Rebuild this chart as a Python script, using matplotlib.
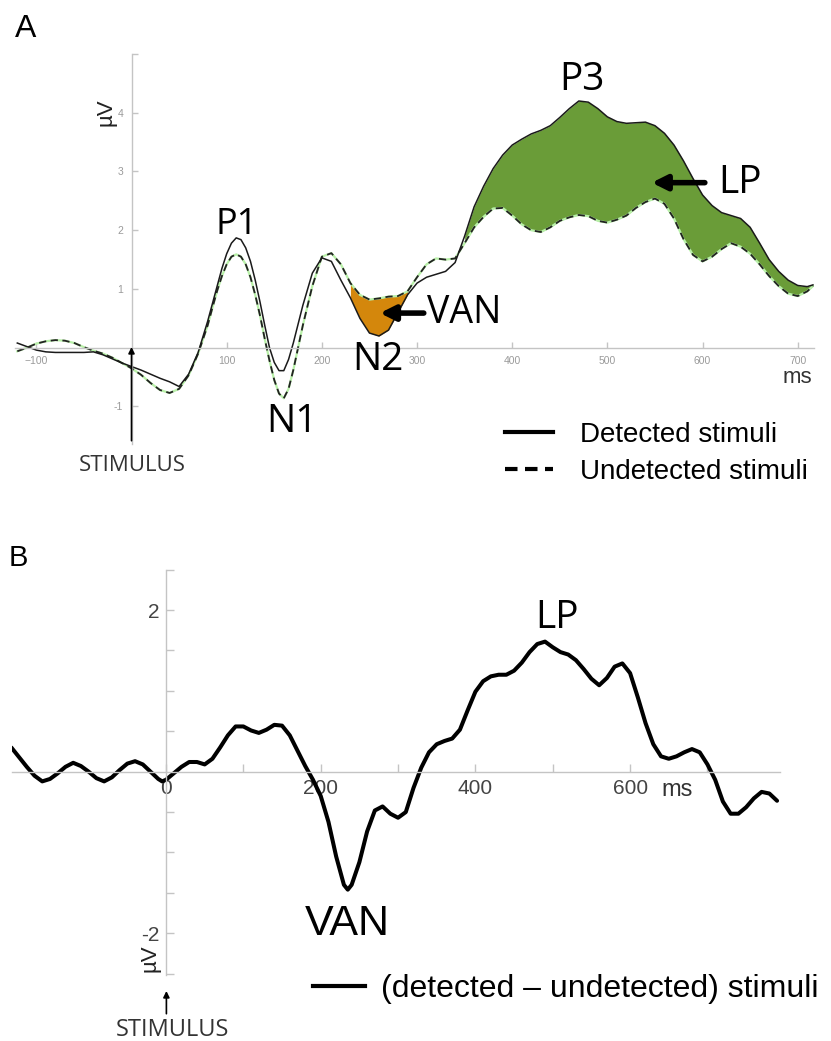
import matplotlib
matplotlib.use("Agg")
import matplotlib.pyplot as plt
from matplotlib.lines import Line2D

plt.rcParams['font.family'] = ['Liberation Sans', 'DejaVu Sans']

# ---- Panel A: ERPs, detected vs undetected (ms, µV) ----
t_a = [-120, -110, -100, -90, -80, -70, -60, -50, -40, -30, -20, -10, 0, 10, 20, 30, 40,
       50, 60, 70, 80, 85, 90, 95, 100, 105, 110, 115, 120, 125, 130, 135, 140, 145, 150,
       155, 160, 165, 170, 175, 180, 190, 200, 210, 220, 230, 240, 250, 260, 270, 280,
       290, 300, 310, 320, 330, 340, 350, 360, 370, 380, 390, 400, 410, 420, 430, 440,
       450, 460, 470, 480, 490, 500, 510, 520, 530, 540, 550, 560, 570, 580, 590, 600,
       610, 620, 630, 640, 650, 660, 670, 680, 690, 700, 710, 716]
detected = [0.08, 0.02, -0.04, -0.07, -0.08, -0.08, -0.08, -0.08, -0.07, -0.12, -0.19, -0.26,
            -0.32, -0.38, -0.45, -0.52, -0.58, -0.66, -0.45, -0.08, 0.45, 0.75, 1.05, 1.35,
            1.6, 1.78, 1.87, 1.84, 1.7, 1.47, 1.15, 0.78, 0.38, 0.0, -0.25, -0.39, -0.39,
            -0.2, 0.08, 0.4, 0.72, 1.27, 1.53, 1.47, 1.15, 0.85, 0.5, 0.25, 0.2, 0.3, 0.6,
            0.9, 1.1, 1.2, 1.25, 1.3, 1.45, 1.9, 2.4, 2.75, 3.05, 3.28, 3.45, 3.55, 3.64,
            3.7, 3.78, 3.92, 4.07, 4.2, 4.18, 4.07, 3.93, 3.85, 3.82, 3.83, 3.84, 3.78,
            3.65, 3.45, 3.18, 2.88, 2.6, 2.42, 2.3, 2.25, 2.2, 2.05, 1.78, 1.5, 1.3, 1.15,
            1.06, 1.04, 1.07]
undetected = [-0.06, 0.0, 0.07, 0.11, 0.13, 0.12, 0.08, 0.01, -0.05, -0.1, -0.17, -0.26,
              -0.35, -0.46, -0.6, -0.72, -0.77, -0.7, -0.47, -0.1, 0.38, 0.68, 0.97, 1.22,
              1.42, 1.55, 1.59, 1.55, 1.42, 1.2, 0.9, 0.55, 0.15, -0.22, -0.55, -0.78, -0.86,
              -0.7, -0.38, 0.0, 0.38, 1.05, 1.55, 1.61, 1.42, 1.1, 0.9, 0.82, 0.84, 0.87,
              0.88, 0.96, 1.2, 1.42, 1.52, 1.5, 1.52, 1.78, 2.05, 2.23, 2.37, 2.38, 2.25,
              2.1, 2.0, 1.97, 2.05, 2.16, 2.22, 2.26, 2.24, 2.16, 2.13, 2.18, 2.25, 2.38,
              2.48, 2.54, 2.45, 2.2, 1.85, 1.58, 1.47, 1.55, 1.68, 1.78, 1.72, 1.6, 1.42,
              1.22, 1.05, 0.92, 0.88, 0.96, 1.05]

# ---- Panel B: difference wave ----
t_b = [-200, -190, -180, -170, -160, -150, -140, -130, -120, -110, -100, -90, -80, -70, -60,
       -50, -40, -30, -20, -10, -5, 0, 10, 20, 30, 40, 50, 60, 70, 80, 90, 100, 110, 120,
       130, 140, 150, 160, 170, 180, 190, 200, 210, 220, 230, 235, 240, 250, 260, 270, 280,
       290, 300, 310, 320, 330, 340, 350, 360, 370, 380, 390, 400, 410, 420, 430, 440, 450,
       460, 470, 480, 490, 500, 510, 520, 530, 540, 550, 560, 570, 580, 590, 600, 610, 620,
       630, 640, 650, 660, 670, 680, 690, 700, 710, 720, 730, 740, 750, 760, 770, 780, 790]
difference = [0.30, 0.18, 0.06, -0.05, -0.12, -0.09, -0.02, 0.06, 0.11, 0.07, 0.0, -0.08,
              -0.12, -0.07, 0.02, 0.10, 0.13, 0.09, 0.0, -0.09, -0.12, -0.1, -0.02, 0.06,
              0.12, 0.12, 0.09, 0.16, 0.3, 0.45, 0.56, 0.56, 0.51, 0.48, 0.52, 0.58, 0.57,
              0.45, 0.26, 0.07, -0.1, -0.3, -0.62, -1.05, -1.4, -1.46, -1.4, -1.12, -0.74,
              -0.48, -0.43, -0.52, -0.57, -0.5, -0.2, 0.05, 0.24, 0.34, 0.38, 0.41, 0.52,
              0.76, 0.99, 1.12, 1.18, 1.2, 1.2, 1.25, 1.35, 1.48, 1.58, 1.61, 1.54, 1.48,
              1.45, 1.38, 1.27, 1.15, 1.07, 1.16, 1.3, 1.34, 1.22, 0.92, 0.6, 0.34, 0.19,
              0.16, 0.19, 0.24, 0.28, 0.24, 0.09, -0.1, -0.37, -0.52, -0.52, -0.44, -0.33,
              -0.25, -0.27, -0.36]

W, H = 831, 1041
fig = plt.figure(figsize=(W / 100, H / 100), dpi=100)


def px_axes(x0, y0, x1, y1):
    return fig.add_axes([x0 / W, 1 - y1 / H, (x1 - x0) / W, (y1 - y0) / H])


def style_axes(ax, grey):
    for s in ['top', 'right']:
        ax.spines[s].set_visible(False)
    ax.spines['left'].set_position(('data', 0))
    ax.spines['bottom'].set_position(('data', 0))
    for s in ['left', 'bottom']:
        ax.spines[s].set_color(grey)
        ax.spines[s].set_linewidth(1.0)
    ax.patch.set_visible(False)


OPEN = 'Open Sans'

# ================= Panel A =================
axA = px_axes(15.4, 54.0, 813.9, 443.5)
axA.set_xlim(-122, 717)
axA.set_ylim(-1.63, 5.0)
style_axes(axA, '#c4c4c4')

axA.set_xticks([-100, 100, 200, 300, 400, 500, 600, 700])
axA.set_yticks([-1, 1, 2, 3, 4, 5])
axA.set_yticklabels(['-1', '1', '2', '3', '4', ''])
axA.tick_params(direction='in', length=4, width=1, color='#c4c4c4',
                labelsize=7.5, labelcolor='#9a9a9a', pad=6)

# fills
in_van = [(s < u) and 230 <= t <= 295 for t, s, u in zip(t_a, detected, undetected)]
in_lp = [(s >= u) and t >= 340 for t, s, u in zip(t_a, detected, undetected)]
axA.fill_between(t_a, detected, undetected, where=in_van, color='#d4870c', lw=0)
axA.fill_between(t_a, detected, undetected, where=in_lp, color='#6a9c38', lw=0)

axA.plot(t_a, undetected, color='#b8f0a8', lw=1.6)
axA.plot(t_a, undetected, color='#222222', lw=1.3, dashes=(4, 2.5))
axA.plot(t_a, detected, color='#1a1a1a', lw=1.1)

# stimulus arrow
axA.annotate('', xy=(0, 0.06), xytext=(0, -1.63),
             arrowprops=dict(arrowstyle='-|>', color='k', lw=1.2, mutation_scale=9),
             annotation_clip=False)
axA.text(0.5, -2.0, 'STIMULUS', family=OPEN, fontsize=16, color='#333333',
         ha='center', va='center', clip_on=False)
axA.text(-27, 4.01, 'µV', fontsize=16, rotation=90, ha='center', va='center', color='#222222')
axA.text(700, -0.5, 'ms', fontsize=16, ha='center', va='center', color='#333333')

axA.text(110, 2.09, 'P1', family=OPEN, fontsize=26, ha='center', va='center')
axA.text(168.6, -1.26, 'N1', family=OPEN, fontsize=28, ha='center', va='center')
axA.text(259, -0.21, 'N2', family=OPEN, fontsize=28, ha='center', va='center')
axA.text(473.4, 4.56, 'P3', family=OPEN, fontsize=28, ha='center', va='center')
axA.annotate('VAN', xy=(261, 0.59), xytext=(310, 0.59), family=OPEN, fontsize=27,
             ha='left', va='center',
             arrowprops=dict(arrowstyle='-|>', color='k', lw=4, mutation_scale=22,
                             shrinkA=0, shrinkB=0))
axA.annotate('LP', xy=(546.6, 2.81), xytext=(617, 2.81), family=OPEN, fontsize=28,
             ha='left', va='center',
             arrowprops=dict(arrowstyle='-|>', color='k', lw=4, mutation_scale=22,
                             shrinkA=8, shrinkB=0))

legA = [Line2D([], [], color='k', lw=3),
        Line2D([], [], color='k', lw=3, dashes=(3, 1.8))]
fig.legend(legA, ['Detected stimuli', 'Undetected stimuli'], loc='upper left',
           bbox_to_anchor=(505 / W, 1 - 422 / H), frameon=False, fontsize=20,
           handlelength=1.72, handletextpad=0.97, labelspacing=0.38,
           borderpad=0, borderaxespad=0)

fig.text(15 / W, 1 - 29 / H, 'A', fontsize=23, ha='left', va='center')

# ================= Panel B =================
axB = px_axes(11.7, 569.7, 780.0, 975.3)
axB.set_xlim(-199.5, 793.8)
axB.set_ylim(-2.52, 2.5)
style_axes(axB, '#c4c4c4')

axB.set_xticks([0, 100, 200, 300, 400, 500, 600, 700])
axB.set_xticklabels(['0', '', '200', '', '400', '', '600', ''])
yt = [-2.5, -2, -1.5, -1, -0.5, 0.5, 1, 1.5, 2, 2.5]
axB.set_yticks(yt)
axB.set_yticklabels(['2' if v == 2 else '-2' if v == -2 else '' for v in yt])
axB.tick_params(direction='in', length=6, width=1, color='#c4c4c4',
                labelsize=15, labelcolor='#444444', pad=5)

axB.plot(t_b, difference, color='k', lw=2.9, solid_joinstyle='round', solid_capstyle='round')

axB.text(505.5, 1.90, 'LP', family=OPEN, fontsize=28, ha='center', va='center')
axB.text(234, -1.88, 'VAN', fontsize=31, ha='center', va='center')
axB.text(660.6, -0.23, 'ms', fontsize=17, ha='center', va='center', color='#333333')
axB.text(-20.7, -2.31, 'µV', fontsize=16, rotation=90, ha='center', va='center', color='#222222')
axB.annotate('', xy=(0.5, -2.68), xytext=(0.5, -3.03),
             arrowprops=dict(arrowstyle='-|>', color='k', lw=1.2, mutation_scale=9),
             annotation_clip=False)
axB.text(7.8, -3.2, 'STIMULUS', family=OPEN, fontsize=17, color='#333333',
         ha='center', va='center', clip_on=False)

fig.legend([Line2D([], [], color='k', lw=3)], ['(detected – undetected) stimuli'],
           loc='upper left', bbox_to_anchor=(313 / W, 1 - 974 / H), frameon=False,
           fontsize=23, handlelength=1.63, handletextpad=0.5,
           borderpad=0, borderaxespad=0)

fig.text(9 / W, 1 - 558 / H, 'B', fontsize=21, ha='left', va='center')

fig.savefig('out.png', dpi=100)
